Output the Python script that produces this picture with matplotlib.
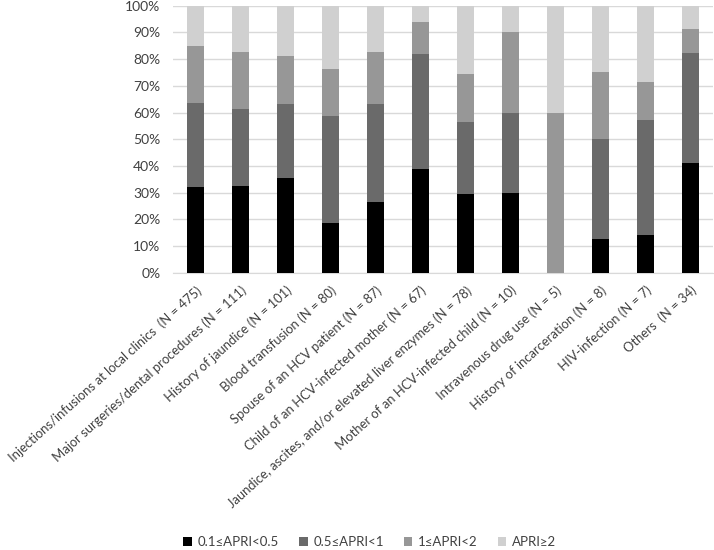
import matplotlib
matplotlib.use("Agg")
import matplotlib.pyplot as plt
import numpy as np

categories = [
    "Injections/infusions at local clinics  (N = 475)",
    "Major surgeries/dental procedures (N = 111)",
    "History of jaundice (N = 101)",
    "Blood transfusion (N = 80)",
    "Spouse of an HCV patient (N = 87)",
    "Child of an HCV-infected mother (N = 67)",
    "Jaundice, ascites, and/or elevated liver enzymes (N = 78)",
    "Mother of an HCV-infected child (N = 10)",
    "Intravenous drug use (N = 5)",
    "History of incarceration (N = 8)",
    "HIV-infection (N = 7)",
    "Others  (N = 34)",
]
series_names = ["0.1\u2264APRI<0.5", "0.5\u2264APRI<1", "1\u2264APRI<2", "APRI\u22652"]
apri_01_05 = [32.0, 32.4, 35.6, 18.8, 26.4, 38.8, 29.5, 30.0, 0.0, 12.5, 14.3, 41.2]
apri_05_1 = [31.4, 28.8, 27.7, 40.0, 36.8, 43.3, 26.9, 30.0, 0.0, 37.5, 42.9, 41.2]
apri_1_2 = [21.6, 21.6, 17.8, 17.5, 19.5, 11.9, 17.9, 30.0, 60.0, 25.0, 14.3, 8.8]
apri_ge2 = [15.0, 17.1, 18.8, 23.7, 17.2, 6.0, 25.6, 10.0, 40.0, 25.0, 28.6, 8.8]

colors = ["#000000", "#6a6a6a", "#979797", "#d0d0d0"]

plt.rcParams['font.family'] = ['Lato', 'DejaVu Sans']

fig = plt.figure(figsize=(7.14, 5.5), dpi=100)
ax = fig.add_axes([0.2423, 0.504, 0.7563, 0.4856])

x = np.arange(len(categories))
bottom = np.zeros(len(categories))
for vals, name, c in zip([apri_01_05, apri_05_1, apri_1_2, apri_ge2], series_names, colors):
    v = np.array(vals)
    ax.bar(x, v, 0.39, bottom=bottom, color=c, label=name, zorder=3)
    bottom += v

ax.set_xlim(-0.5, len(categories) - 0.5)
ax.set_ylim(0, 100)
ax.set_yticks(np.arange(0, 101, 10))
ax.set_yticklabels([f"{t}%" for t in range(0, 101, 10)], fontsize=10, color="#404040")
ax.yaxis.grid(True, color="#d9d9d9", linewidth=1, zorder=0)
ax.set_xticks(x)
ax.set_xticklabels(categories, rotation=42, ha='right', rotation_mode='anchor',
                   fontsize=9.4, color="#404040")
ax.tick_params(axis='y', length=0, pad=9)
ax.tick_params(axis='x', length=0, pad=8)
for s in ["top", "right", "left"]:
    ax.spines[s].set_visible(False)
ax.spines["bottom"].set_color("#d9d9d9")

fig.legend(loc='lower center', bbox_to_anchor=(0.518, -0.018), ncol=4, frameon=False,
           fontsize=9.5, handlelength=0.65, handleheight=0.65, columnspacing=1.5,
           handletextpad=0.45, labelcolor="#404040")

fig.savefig("out.png", dpi=100)
